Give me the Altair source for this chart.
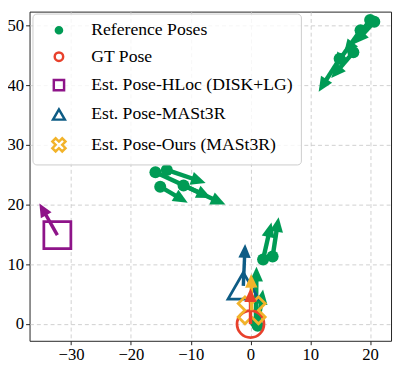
import math
import altair as alt
import pandas as pd

# ---------------- data ----------------
# reference poses: origin (x, y) and arrow tip (tx, ty)
ref_x = [20.7, 20.0, 18.4, 17.2, 14.9, -14.0, -15.9, -15.1, -11.2, 3.7, 2.1, 1.2, 0.9]
ref_y = [50.6, 50.9, 49.2, 45.5, 44.4, 25.8, 25.4, 23.0, 23.2, 11.3, 10.8, -0.3, 0.3]
ref_tx = [17.3, 15.6, 14.0, 13.5, 11.4, -7.5, -6.6, -10.5, -4.2, 4.7, 3.5, 2.1, 1.0]
ref_ty = [46.9, 45.2, 43.0, 41.2, 38.9, 23.6, 21.1, 20.3, 20.0, 17.9, 17.0, 5.8, 9.6]

# estimated poses
est_names = ["GT Pose", "Est. Pose-HLoc (DISK+LG)", "Est. Pose-MASt3R", "Est. Pose-Ours (MASt3R)"]
est_x = [0.0, -32.3, -1.2, 0.2]
est_y = [0.0, 14.9, 6.4, 2.3]
est_tx = [0.0, -35.3, -0.9, 0.1]
est_ty = [6.0, 20.2, 13.4, 8.4]

legend_names = ["Reference Poses"] + est_names
X_PATH = "M0.5,0L1,0.5L0.5,1L0,0.5L-0.5,1L-1,0.5L-0.5,0L-1,-0.5L-0.5,-1L0,-0.5L0.5,-1L1,-0.5Z"
HEAD_PATH = "M0,0L-0.45,1L0.45,1Z"
colors = ["#009B55", "#E8412C", "#8E1489", "#0E5C85", "#F2B32A"]
shapes = ["circle", "circle", "square", "triangle-up", X_PATH]
fills = ["#009B55", "transparent", "transparent", "transparent", "transparent"]
marker_sizes = [760, 760, 980, 760]

x_ticks = [-30, -20, -10, 0, 10, 20]
y_ticks = [0, 10, 20, 30, 40, 50]
X_DOM = [-36.95, 23.5]
Y_DOM = [-2.8, 52.3]
W, H = 369, 336
KX = W / (X_DOM[1] - X_DOM[0])
KY = H / (Y_DOM[1] - Y_DOM[0])
FONT = "Liberation Serif"


def arrows(xs, ys, txs, tys, head_len):
    rows = []
    for x, y, tx, ty in zip(xs, ys, txs, tys):
        dxp = (tx - x) * KX
        dyp = (ty - y) * KY
        L = math.hypot(dxp, dyp)
        ux, uy = dxp / L, dyp / L
        back = head_len * 0.6
        ang = math.degrees(math.atan2(dxp, dyp)) % 360
        rows.append(dict(x=x, y=y, tx=tx, ty=ty,
                         sx=tx - ux * back / KX, sy=ty - uy * back / KY, angle=ang))
    return pd.DataFrame(rows)


ref_df = arrows(ref_x, ref_y, ref_tx, ref_ty, 15)
est_df = arrows(est_x, est_y, est_tx, est_ty, 14)
est_df["series"] = est_names
est_df["color"] = colors[1:]
est_df["shape"] = shapes[1:]
est_df["msize"] = marker_sizes

xs = alt.Scale(domain=X_DOM, nice=False, zero=False)
ys = alt.Scale(domain=Y_DOM, nice=False, zero=False)
xax = alt.Axis(values=x_ticks, title=None, grid=True)
yax = alt.Axis(values=y_ticks, title=None, grid=True)

X = lambda f: alt.X(f"{f}:Q", scale=xs, axis=xax)
Y = lambda f: alt.Y(f"{f}:Q", scale=ys, axis=yax)

green = colors[0]

ref_shaft = alt.Chart(ref_df).mark_rule(color=green, strokeWidth=4.5).encode(
    x=X("x"), y=Y("y"), x2="sx:Q", y2="sy:Q")
ref_head = alt.Chart(ref_df).mark_point(shape=HEAD_PATH, filled=True, color=green, opacity=1, size=900).encode(
    x=X("tx"), y=Y("ty"), angle=alt.Angle("angle:Q", scale=None))
ref_dot = alt.Chart(ref_df).mark_point(shape="circle", filled=True, color=green, opacity=1, size=150).encode(
    x=X("x"), y=Y("y"))

est_marker = alt.Chart(est_df).mark_point(strokeWidth=2.8, opacity=1, fill="transparent").encode(
    x=X("x"), y=Y("y"),
    stroke=alt.Stroke("color:N", scale=None),
    shape=alt.Shape("shape:N", scale=None),
    size=alt.Size("msize:Q", scale=None))
est_shaft = alt.Chart(est_df).mark_rule(strokeWidth=3.5).encode(
    x=X("x"), y=Y("y"), x2="sx:Q", y2="sy:Q",
    color=alt.Color("color:N", scale=None))
est_head = alt.Chart(est_df).mark_point(shape=HEAD_PATH, filled=True, opacity=1, size=784).encode(
    x=X("tx"), y=Y("ty"), angle=alt.Angle("angle:Q", scale=None),
    color=alt.Color("color:N", scale=None))

# legend-only layer (no drawn marks: null positions)
leg_df = pd.DataFrame({"series": legend_names, "lx": [None] * 5, "ly": [None] * 5})
leg = alt.Legend(orient="none", legendX=3, legendY=2, title=None, padding=8,
                 symbolOffset=10, labelOffset=24, rowPadding=8,
                 fillColor="rgba(255,255,255,0.8)", strokeColor="#cccccc", cornerRadius=4,
                 labelFont=FONT, labelFontSize=18, labelColor="black", labelLimit=0,
                 symbolStrokeWidth=2.5)
legend_layer = alt.Chart(leg_df).mark_point(opacity=1).encode(
    x=alt.X("lx:Q", scale=xs, axis=xax), y=alt.Y("ly:Q", scale=ys, axis=yax),
    stroke=alt.Stroke("series:N", scale=alt.Scale(domain=legend_names, range=colors), legend=leg),
    fill=alt.Fill("series:N", scale=alt.Scale(domain=legend_names, range=fills), legend=leg),
    shape=alt.Shape("series:N", scale=alt.Scale(domain=legend_names, range=shapes), legend=leg),
    size=alt.Size("series:N", scale=alt.Scale(domain=legend_names, range=[40, 180, 170, 200, 200]), legend=leg),
)

chart = alt.layer(
    ref_shaft, ref_head, ref_dot, est_marker, est_shaft, est_head, legend_layer
).properties(
    width=W, height=H,
    autosize=alt.AutoSizeParams(type="none"),
    padding={"left": 22, "top": 0, "right": 2, "bottom": 21},
).configure_view(
    stroke="#222222", strokeWidth=1
).configure_axis(
    domain=False, tickColor="#222222", tickSize=4, tickWidth=1,
    labelFont=FONT, labelFontSize=17, labelColor="black", labelPadding=2,
    gridColor="#c4c4c4", gridDash=[4, 3], gridWidth=0.8,
)

chart.save("out.html", embed_options={"renderer": "svg", "actions": False})
